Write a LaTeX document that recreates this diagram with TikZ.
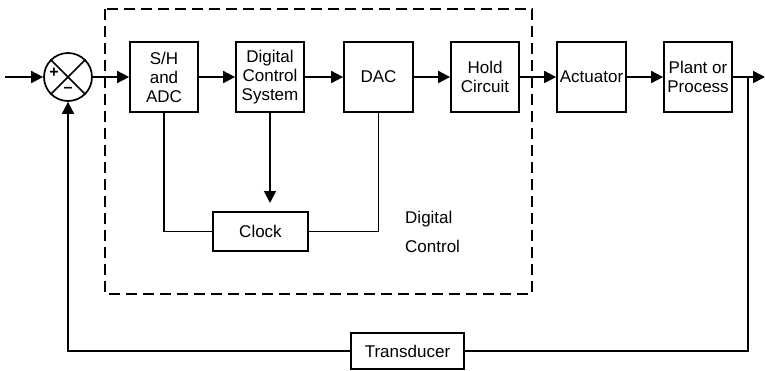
\documentclass[tikz,border=0pt]{standalone}
\usepackage{fontspec}
\setmainfont{Liberation Sans}
\usetikzlibrary{arrows.meta}
\begin{document}
\begin{tikzpicture}[x=1pt,y=-1pt,
  txt/.style={font=\fontsize{17}{19}\selectfont},
  blk/.style={draw, line width=1.7pt, minimum width=68pt, minimum height=70pt,
              inner sep=0pt, align=center, txt},
  wire/.style={line width=1.7pt},
  flow/.style={wire, -{Triangle[length=12pt,width=12pt]}},
  frame/.style={line width=1.7pt, dash pattern=on 11pt off 6pt},
]
\useasboundingbox (0,0) rectangle (765,370);

% digital control boundary
\draw[frame] (105,9) rectangle (532,294);
\node[anchor=west, align=left, inner sep=0pt, font=\fontsize{17}{29}\selectfont] (dlabel) at (405,232) {Digital\\Control};

% summing junction
\node[circle, draw, line width=1.7pt, minimum size=48pt, inner sep=0pt] (sum) at (68,77) {};
\draw[wire] (sum.45) -- (sum.225);
\draw[wire] (sum.135) -- (sum.315);
\node[font=\fontsize{16}{16}\selectfont\bfseries, inner sep=0pt] (plus) at (54,73) {+};
\node[font=\fontsize{16}{16}\selectfont\bfseries, inner sep=0pt] (minus) at (68,90) {–};

% forward path blocks
\node[blk] (shadc) at (164,77) {S/H\\and\\ADC};
\node[blk] (dcs) at (270,77) {Digital\\Control\\System};
\node[blk, minimum width=69pt] (dac) at (378.5,77) {DAC};
\node[blk] (hold) at (485,77) {Hold\\Circuit};
\node[blk, minimum width=69pt] (act) at (591.5,77) {Actuator};
\node[blk] (plant) at (698,77) {Plant or\\Process};

% clock and transducer
\node[draw, line width=1.7pt, minimum width=95pt, minimum height=39pt, inner sep=0pt, txt] (clock) at (260.5,231.5) {Clock};
\node[draw, line width=1.7pt, minimum width=113pt, minimum height=36pt, inner sep=0pt, txt] (trans) at (407.5,351) {Transducer};

% free ends
\coordinate (in) at (5,77);
\coordinate (out) at (765,77);
\coordinate (tap) at (748,77);
\coordinate (clkin) at (270,203);

% forward path
\draw[flow] (in) -- (sum.west);
\draw[flow] (sum.east) -- (shadc.west);
\draw[flow] (shadc.east) -- (dcs.west);
\draw[flow] (dcs.east) -- (dac.west);
\draw[flow] (dac.east) -- (hold.west);
\draw[flow] (hold.east) -- (act.west);
\draw[flow] (act.east) -- (plant.west);
\draw[flow] (plant.east) -- (out);

% clock links
\draw[flow] (dcs.south) -- (clkin);
\draw[wire] (shadc.south) |- (clock.west);
\draw[wire] (dac.south) |- (clock.east);

% feedback path
\draw[wire] (tap) |- (trans.east);
\draw[flow] (trans.west) -| (sum.south);
\end{tikzpicture}
\end{document}
